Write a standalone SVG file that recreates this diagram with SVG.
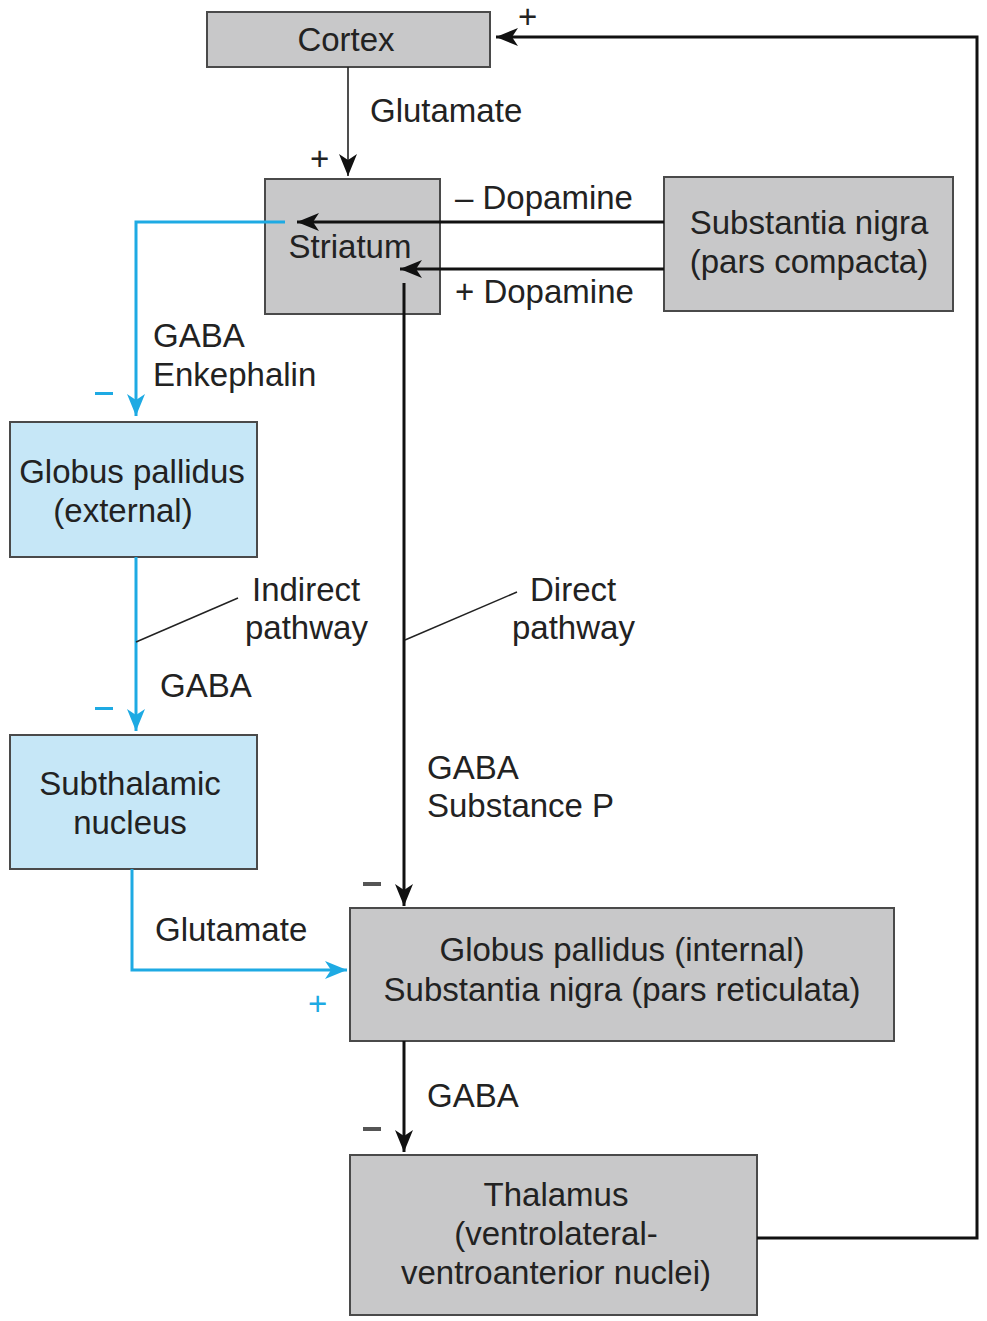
<svg xmlns="http://www.w3.org/2000/svg" width="987" height="1321" viewBox="0 0 987 1321">
<style>
.box{fill:#c8c8c9;stroke:#4a4a4a;stroke-width:2}
.bbox{fill:#c6e7f7;stroke:#4a4a4a;stroke-width:2}
text{font-family:"Liberation Sans",Arial,sans-serif;font-size:33px;fill:#222}
.c{text-anchor:middle}
.k{fill:none;stroke:#111;stroke-width:3}
.kt{fill:none;stroke:#222;stroke-width:1.6}
.b{fill:none;stroke:#1eaae3;stroke-width:3}
.lead{fill:none;stroke:#222;stroke-width:1.5}
.sb{fill:#1eaae3}
.sg{fill:#555}
</style>
<defs>
<marker id="ak" markerWidth="24" markerHeight="20" refX="22" refY="10" orient="auto" markerUnits="userSpaceOnUse">
<path d="M0,1 L22,10 L0,19 L6,10 z" fill="#111"/>
</marker>
<marker id="ab" markerWidth="24" markerHeight="20" refX="22" refY="10" orient="auto" markerUnits="userSpaceOnUse">
<path d="M0,1 L22,10 L0,19 L6,10 z" fill="#1eaae3"/>
</marker>
</defs>

<g id="cortex">
<rect class="box" x="207" y="12" width="283" height="55"/>
<text class="c" x="346" y="51">Cortex</text>
</g>
<g id="striatum">
<rect class="box" x="265" y="179" width="175" height="135"/>
<text class="c" x="350" y="258">Striatum</text>
</g>
<g id="sn-compacta">
<rect class="box" x="664" y="177" width="289" height="134"/>
<text class="c" x="809" y="234">Substantia nigra</text>
<text class="c" x="809" y="273">(pars compacta)</text>
</g>
<g id="gp-external">
<rect class="bbox" x="10" y="422" width="247" height="135"/>
<text class="c" x="132" y="483">Globus pallidus</text>
<text class="c" x="123" y="522">(external)</text>
</g>
<g id="subthalamic">
<rect class="bbox" x="10" y="735" width="247" height="134"/>
<text class="c" x="130" y="795">Subthalamic</text>
<text class="c" x="130" y="834">nucleus</text>
</g>
<g id="gp-internal">
<rect class="box" x="350" y="908" width="544" height="133"/>
<text class="c" x="622" y="961">Globus pallidus (internal)</text>
<text class="c" x="622" y="1001">Substantia nigra (pars reticulata)</text>
</g>
<g id="thalamus">
<rect class="box" x="350" y="1155" width="407" height="160"/>
<text class="c" x="556" y="1206">Thalamus</text>
<text class="c" x="556" y="1245">(ventrolateral-</text>
<text class="c" x="556" y="1284">ventroanterior nuclei)</text>
</g>

<g id="connectors">
<line class="kt" x1="348" y1="67" x2="348" y2="176" marker-end="url(#ak)"/>
<polyline class="k" points="757,1238 977,1238 977,37 496,37" marker-end="url(#ak)"/>
<line class="k" x1="664" y1="222" x2="297" y2="222" marker-end="url(#ak)"/>
<line class="k" x1="664" y1="269" x2="400" y2="269" marker-end="url(#ak)"/>
<polyline class="b" points="285,222 136,222 136,416" marker-end="url(#ab)"/>
<line class="b" x1="136" y1="557" x2="136" y2="731" marker-end="url(#ab)"/>
<line class="k" x1="404" y1="283" x2="404" y2="906" marker-end="url(#ak)"/>
<polyline class="b" points="132,869 132,970 347,970" marker-end="url(#ab)"/>
<line class="k" x1="404" y1="1041" x2="404" y2="1152" marker-end="url(#ak)"/>
<line class="lead" x1="136" y1="642" x2="238" y2="598"/>
<line class="lead" x1="405" y1="640" x2="517" y2="592"/>
</g>

<g id="labels">
<text x="370" y="122">Glutamate</text>
<text x="310" y="170" font-size="26">+</text>
<text x="518" y="28" font-size="24">+</text>
<text x="455" y="209">– Dopamine</text>
<text x="455" y="303">+ Dopamine</text>
<text x="153" y="347">GABA</text>
<text x="153" y="386">Enkephalin</text>
<rect class="sb" x="95" y="392" width="18" height="3"/>
<text x="252" y="601">Indirect</text>
<text x="245" y="639">pathway</text>
<text x="530" y="601">Direct</text>
<text x="512" y="639">pathway</text>
<text x="160" y="697">GABA</text>
<rect class="sb" x="95" y="707" width="18" height="3"/>
<text x="427" y="779">GABA</text>
<text x="427" y="817">Substance P</text>
<rect class="sg" x="363" y="882" width="18" height="4"/>
<text x="155" y="941">Glutamate</text>
<text x="308" y="1015" font-size="24" class="sb">+</text>
<text x="427" y="1107">GABA</text>
<rect class="sg" x="363" y="1127" width="18" height="4"/>
</g>
</svg>
